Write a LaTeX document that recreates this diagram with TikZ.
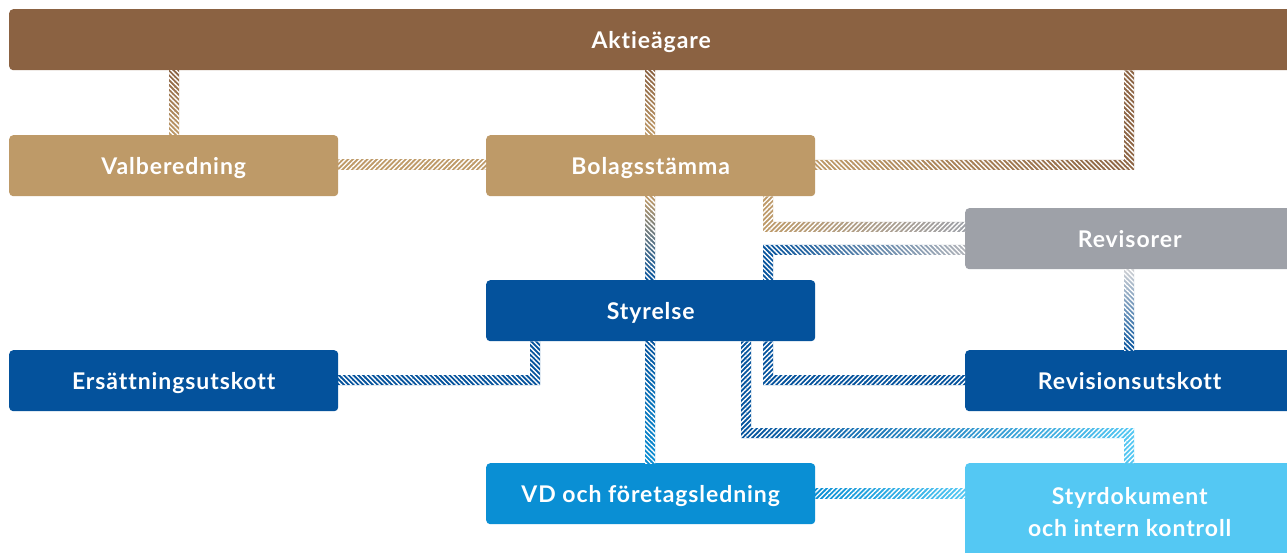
\documentclass[tikz,border=0pt]{standalone}
\usepackage{fontspec}
\setmainfont[Ligatures=NoCommon, LetterSpace=4]{Lato}
\usetikzlibrary{patterns.meta}
\definecolor{cBrown}{HTML}{8B6242}
\definecolor{cTan}{HTML}{BE9A68}
\definecolor{cGray}{HTML}{9EA1A8}
\definecolor{cBlue}{HTML}{04529C}
\definecolor{cVD}{HTML}{0A8FD4}
\definecolor{cLight}{HTML}{54C8F3}
\tikzset{
  boxbase/.style={rounded corners=4pt, anchor=north west, minimum width=329pt, minimum height=61pt,
    inner sep=0pt, text=white, font=\bfseries\fontsize{23}{32}\selectfont, align=center},
  box/.style={boxbase, text height=19pt, text depth=2pt},
  hatchA/.style={pattern={Lines[angle=45,distance=3.4pt,line width=1.35pt]}, pattern color=white},
  hatchB/.style={pattern={Lines[angle=-45,distance=3.4pt,line width=1.35pt]}, pattern color=white},
}
% #1 shading options, #2 hatch style, #3 band path
\newcommand\hatchband[3]{%
  \begin{scope}
    \clip #3;
    \shade[#1] #3;
    \fill[#2] #3;
  \end{scope}}
\begin{document}
\begin{tikzpicture}[x=1pt,y=-1pt]
\useasboundingbox[fill=white] (0,0) rectangle (1287,553);
% boxes
\node[box, fill=cBrown, minimum width=1284pt] (akt) at (9,9) {Aktieägare};
\node[box, fill=cTan] (val) at (9,135) {Valberedning};
\node[box, fill=cTan] (bol) at (486,135) {Bolagsstämma};
\node[box, fill=cGray] (rev) at (965,208) {Revisorer};
\node[box, fill=cBlue] (sty) at (486,280) {Styrelse};
\node[box, fill=cBlue] (ers) at (9,350) {Ersättningsutskott};
\node[box, fill=cBlue] (ru) at (965,350) {Revisionsutskott};
\node[box, fill=cVD] (vd) at (486,463) {VD och företagsledning};
\node[boxbase, fill=cLight, minimum height=98pt] (sd) at (965,463) {Styrdokument\\och intern kontroll};
% connectors
% Aktieägare -> Valberedning
\hatchband{top color=cBrown, bottom color=cTan}{hatchB}{(169,0 |- akt.south) rectangle (179,0 |- val.north)}
% Aktieägare -> Bolagsstämma
\hatchband{top color=cBrown, bottom color=cTan}{hatchB}{(645,0 |- akt.south) rectangle (655,0 |- bol.north)}
% Aktieägare -> Bolagsstämma (right)
\hatchband{left color=cTan, right color=cBrown}{hatchB}{(1124,0 |- akt.south) rectangle (1134,170) (bol.east |- 0,160) rectangle (1134,170)}
% Valberedning -- Bolagsstämma
\hatchband{left color=cTan, right color=cTan}{hatchA}{(val.east |- 0,160) rectangle (bol.west |- 0,170)}
% Bolagsstämma -> Styrelse
\hatchband{top color=cTan, bottom color=cBlue}{hatchB}{(645,0 |- bol.south) rectangle (655,0 |- sty.north)}
% Bolagsstämma -> Revisorer
\hatchband{left color=cTan, right color=cGray}{hatchA}{(763,0 |- bol.south) rectangle (773,232) (763,222) rectangle (rev.west |- 0,232)}
% Styrelse -> Revisorer
\hatchband{left color=cBlue, right color=cGray!80}{hatchB}{(763,245) rectangle (773,0 |- sty.north) (763,245) rectangle (rev.west |- 0,255)}
% Revisorer -> Revisionsutskott
\hatchband{top color=cGray!50, bottom color=cBlue}{hatchB}{(1124,0 |- rev.south) rectangle (1134,0 |- ru.north)}
% Styrelse -> Ersättningsutskott
\hatchband{left color=cBlue, right color=cBlue}{hatchB}{(530,0 |- sty.south) rectangle (540,385) (ers.east |- 0,375) rectangle (540,385)}
% Styrelse -> Revisionsutskott
\hatchband{left color=cBlue, right color=cBlue}{hatchA}{(763,0 |- sty.south) rectangle (773,385) (763,375) rectangle (ru.west |- 0,385)}
% Styrelse -> Styrdokument
\hatchband{left color=cBlue, right color=cLight}{hatchA}{(741,0 |- sty.south) rectangle (751,438) (741,428) rectangle (1134,438) (1124,428) rectangle (1134,0 |- sd.north)}
% Styrelse -> VD
\hatchband{top color=cBlue, bottom color=cVD}{hatchB}{(645,0 |- sty.south) rectangle (655,0 |- vd.north)}
% VD -- Styrdokument
\hatchband{left color=cVD, right color=cLight}{hatchA}{(vd.east |- 0,488) rectangle (sd.west |- 0,498)}
\end{tikzpicture}
\end{document}
